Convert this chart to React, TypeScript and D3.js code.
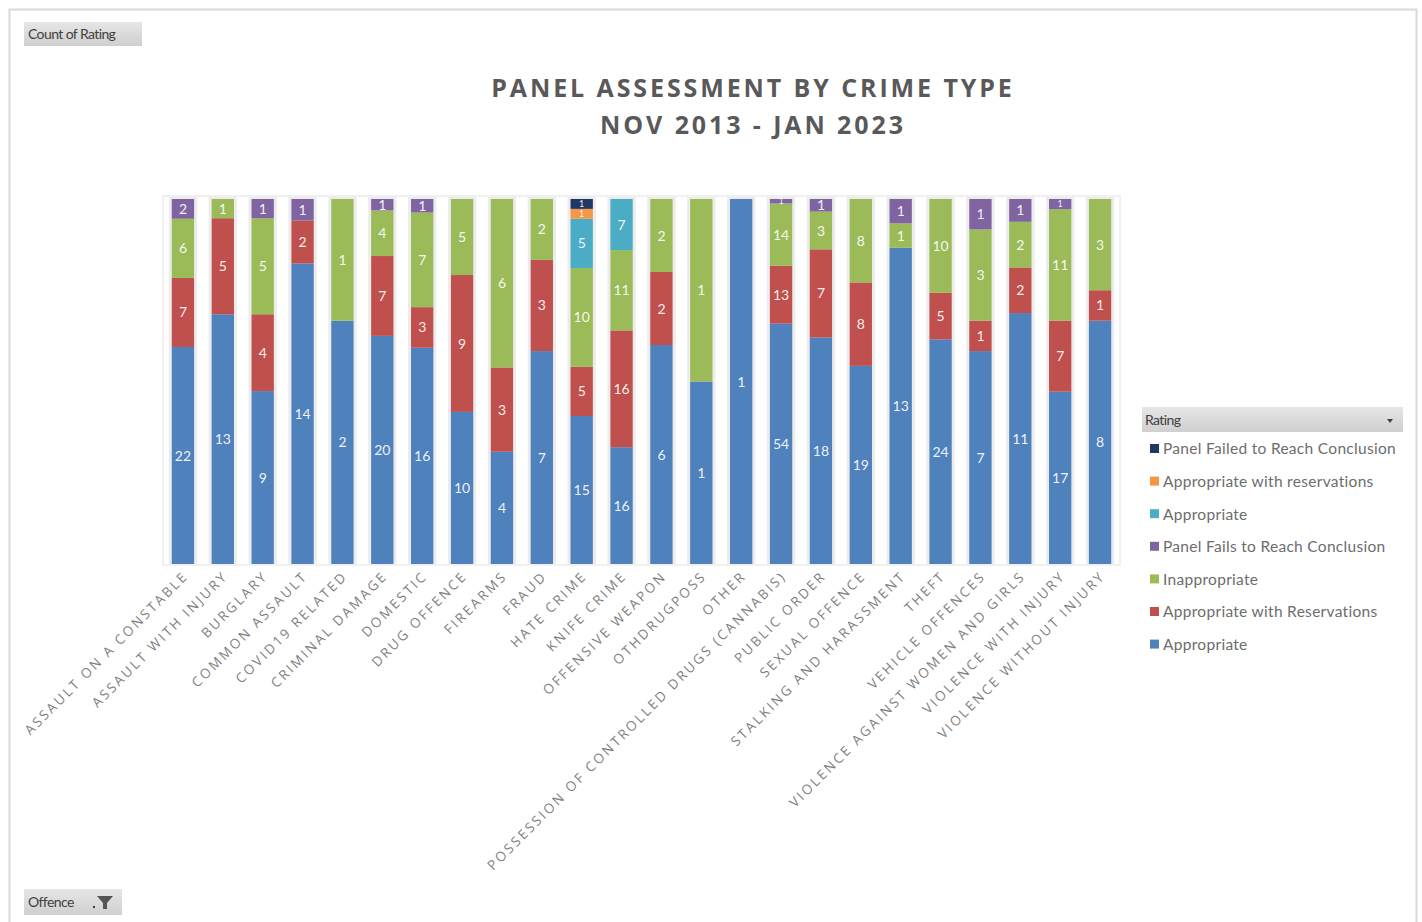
import React from "react";
import * as d3 from "d3";

const categories = [
  "ASSAULT ON A CONSTABLE", "ASSAULT WITH INJURY", "BURGLARY", "COMMON ASSAULT",
  "COVID19 RELATED", "CRIMINAL DAMAGE", "DOMESTIC", "DRUG OFFENCE", "FIREARMS",
  "FRAUD", "HATE CRIME", "KNIFE CRIME", "OFFENSIVE WEAPON", "OTHDRUGPOSS", "OTHER",
  "POSSESSION OF CONTROLLED DRUGS (CANNABIS)", "PUBLIC ORDER", "SEXUAL OFFENCE",
  "STALKING AND HARASSMENT", "THEFT", "VEHICLE OFFENCES",
  "VIOLENCE AGAINST WOMEN AND GIRLS", "VIOLENCE WITH INJURY", "VIOLENCE WITHOUT INJURY",
];

// stacked bottom -> top
const appropriate =          [22, 13, 9, 14, 2, 20, 16, 10, 4, 7, 15, 16, 6, 1, 1, 54, 18, 19, 13, 24, 7, 11, 17, 8];
const appropriateWithRes =   [7, 5, 4, 2, 0, 7, 3, 9, 3, 3, 5, 16, 2, 0, 0, 13, 7, 8, 0, 5, 1, 2, 7, 1];
const inappropriate =        [6, 1, 5, 0, 1, 4, 7, 5, 6, 2, 10, 11, 2, 1, 0, 14, 3, 8, 1, 10, 3, 2, 11, 3];
const panelFails =           [2, 0, 1, 1, 0, 1, 1, 0, 0, 0, 0, 0, 0, 0, 0, 1, 1, 0, 1, 0, 1, 1, 1, 0];
const appropriate2 =         [0, 0, 0, 0, 0, 0, 0, 0, 0, 0, 5, 7, 0, 0, 0, 0, 0, 0, 0, 0, 0, 0, 0, 0];
const appropriateWithRes2 =  [0, 0, 0, 0, 0, 0, 0, 0, 0, 0, 1, 0, 0, 0, 0, 0, 0, 0, 0, 0, 0, 0, 0, 0];
const panelFailed =          [0, 0, 0, 0, 0, 0, 0, 0, 0, 0, 1, 0, 0, 0, 0, 0, 0, 0, 0, 0, 0, 0, 0, 0];

const seriesNames = [
  "Appropriate", "Appropriate with Reservations", "Inappropriate",
  "Panel Fails to Reach Conclusion", "Appropriate", "Appropriate with reservations",
  "Panel Failed to Reach Conclusion",
];
const seriesValues = [appropriate, appropriateWithRes, inappropriate, panelFails, appropriate2, appropriateWithRes2, panelFailed];
const seriesColors = ["#4F81BD", "#C0504D", "#9BBB59", "#8064A2", "#4BACC6", "#F79646", "#1F3864"];

const W = 1422, H = 922;
const plot = { left: 163, right: 1120, top: 199, bottom: 564 };

export default function App() {
  const keys = seriesNames.map((_, i) => "s" + i);
  const rows = categories.map((c, ci) => {
    const total = d3.sum(seriesValues, (s) => s[ci]);
    const r: any = { cat: c, total };
    seriesValues.forEach((s, si) => (r["s" + si] = s[ci] / total));
    return r;
  });
  const stack = d3.stack<any>().keys(keys)(rows);

  const x = d3.scaleBand<string>().domain(categories).range([plot.left, plot.right]).paddingInner(0.44).paddingOuter(0.22);
  const y = d3.scaleLinear().domain([0, 1]).range([plot.bottom, plot.top]);
  const bw = x.bandwidth();

  const font = "Lato, 'Open Sans', sans-serif";
  const legendOrder = [6, 5, 4, 3, 2, 1, 0];

  return (
    <svg width={W} height={H} style={{ position: "absolute", left: 0, top: 0, background: "#fff" }} fontFamily={font}>
      <defs>
        <linearGradient id="btn" x1="0" y1="0" x2="0" y2="1">
          <stop offset="0" stopColor="#e6e6e6" />
          <stop offset="1" stopColor="#cfcfcf" />
        </linearGradient>
      </defs>
      <rect x={9.5} y={9.5} width={1407} height={920} fill="#fff" stroke="#d9d9d9" strokeWidth={2} />

      {/* Count of Rating button */}
      <rect x={24} y={22} width={118} height={24} fill="url(#btn)" />
      <text x={28} y={39} fontSize={14} fill="#404040" letterSpacing={-0.6}>Count of Rating</text>

      {/* Title */}
      <text x={753} y={97} textAnchor="middle" fontSize={25} fontWeight={700} fill="#595959" letterSpacing={2.9} fontFamily="'Open Sans', sans-serif">PANEL ASSESSMENT BY CRIME TYPE</text>
      <text x={753} y={134} textAnchor="middle" fontSize={25} fontWeight={700} fill="#595959" letterSpacing={2.9} fontFamily="'Open Sans', sans-serif">NOV 2013 - JAN 2023</text>

      {/* Plot area */}
      <rect x={plot.left} y={plot.top - 3} width={plot.right - plot.left} height={plot.bottom - plot.top + 4} fill="none" stroke="#ececec" strokeWidth={1.5} />
      {categories.map((c) => (
        <rect key={"sh" + c} x={(x(c) as number) - 3} y={plot.top - 2} width={bw + 6} height={plot.bottom - plot.top + 2} fill="#ececec" />
      ))}
      {stack.map((s, si) => (
        <g key={"g" + si} fill={seriesColors[si]}>
          {s.map((d, ci) =>
            d[1] - d[0] > 0 ? (
              <rect key={ci} x={x(categories[ci])} y={y(d[1])} width={bw} height={y(d[0]) - y(d[1])} />
            ) : null
          )}
        </g>
      ))}
      {stack.map((s, si) => (
        <g key={"l" + si}>
          {s.map((d, ci) => {
            const v = seriesValues[si][ci];
            if (!v) return null;
            const cx = (x(categories[ci]) as number) + bw / 2;
            const cy = (y(d[0]) + y(d[1])) / 2;
            const h = y(d[0]) - y(d[1]);
            const fs = h < 11 ? 9 : 14;
            return (
              <text key={ci} x={cx} y={cy} dy="0.36em" textAnchor="middle" fontSize={fs} fill="#fff" fillOpacity={0.92}>{v}</text>
            );
          })}
        </g>
      ))}

      {/* X labels */}
      {categories.map((c) => {
        const cx = (x(c) as number) + bw / 2 + 6;
        const cy = plot.bottom + 13;
        return (
          <text key={"xl" + c} transform={`translate(${cx},${cy}) rotate(-45)`} textAnchor="end" fontSize={13.5} fill="#7f7f7f" letterSpacing={2.4} fontFamily="'Open Sans', sans-serif">{c}</text>
        );
      })}

      {/* Legend */}
      <rect x={1142} y={407} width={261} height={25} fill="url(#btn)" />
      <text x={1145} y={425} fontSize={14} fill="#404040" letterSpacing={-0.6}>Rating</text>
      <path d="M1387,419 l6,0 l-3,4 z" fill="#404040" />
      {legendOrder.map((si, i) => {
        const ly = 449 + i * 32.6;
        return (
          <g key={"lg" + si}>
            <rect x={1150} y={ly - 5} width={9} height={9} fill={seriesColors[si]} />
            <text x={1163} y={ly} dy="0.35em" fontSize={15.5} fill="#6d6d6d" letterSpacing={0.3}>{seriesNames[si]}</text>
          </g>
        );
      })}

      {/* Offence button */}
      <rect x={24} y={889} width={98} height={26} fill="url(#btn)" />
      <text x={28} y={907} fontSize={14} fill="#404040" letterSpacing={-0.6}>Offence</text>
      <rect x={93} y={906} width={2} height={2} fill="#404040" />
      <path d="M97,896 l16,0 l-6,7 l0,6 l-4,0 l0,-6 z" fill="#555" />
    </svg>
  );
}
